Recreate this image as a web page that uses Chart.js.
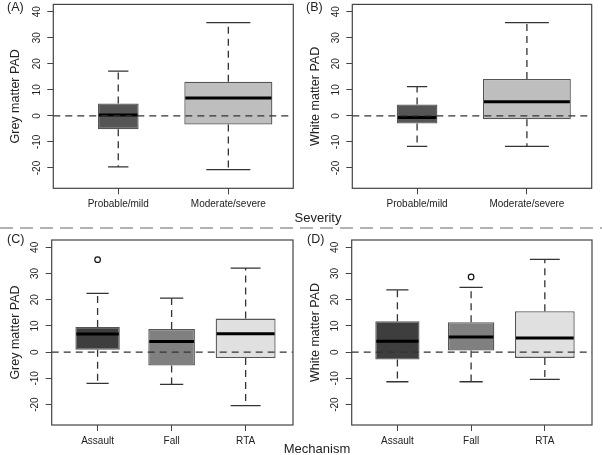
<!DOCTYPE html>
<html>
<head>
<meta charset="utf-8">
<script src="https://cdn.jsdelivr.net/npm/chart.js@4.4.1/dist/chart.umd.min.js"></script>
<style>
  body { margin: 0; background: #fff; }
  #wrap { position: relative; width: 602px; height: 455px; overflow: hidden; font-family: "Liberation Sans", Arial, sans-serif; color: #222; }
  canvas { position: absolute; }
  .lbl { position: absolute; white-space: nowrap; line-height: 1; }
  .tag { font-size: 12.5px; }
  .xtitle { font-size: 13px; transform: translate(-50%, -50%); }
  svg { position: absolute; left: 0; top: 0; }
</style>
</head>
<body>
<div id="wrap">
  <canvas id="chartA" width="300" height="228" style="left:0;top:0"></canvas>
  <canvas id="chartB" width="302" height="228" style="left:300px;top:0"></canvas>
  <canvas id="chartC" width="300" height="227" style="left:0;top:228px"></canvas>
  <canvas id="chartD" width="302" height="227" style="left:300px;top:228px"></canvas>
  <svg width="602" height="455"><line x1="0" y1="228" x2="602" y2="228" stroke="#999" stroke-width="1.5" stroke-dasharray="13,7"/></svg>
  <div class="lbl tag" style="left:7px;top:1px">(A)</div>
  <div class="lbl tag" style="left:306px;top:1px">(B)</div>
  <div class="lbl tag" style="left:7px;top:233px">(C)</div>
  <div class="lbl tag" style="left:307px;top:233px">(D)</div>
  <div class="lbl xtitle" style="left:318px;top:217px">Severity</div>
  <div class="lbl xtitle" style="left:317px;top:448px">Mechanism</div>
</div>
<script>
// severity groups
var severityLabels = ["Probable/mild", "Moderate/severe"]
var severityWidths = [0.37, 0.8]
var severityColors = ["#555555", "#bebebe"]

var greySevLow = [-19.6, -20.6]
var greySevQ1 = [-5.1, -3.3]
var greySevMed = [0.3, 6.9]
var greySevQ3 = [4.8, 13.1]
var greySevHigh = [17.2, 35.8]

var whiteSevLow = [-11.7, -11.7]
var whiteSevQ1 = [-2.9, -1.3]
var whiteSevMed = [-0.6, 5.4]
var whiteSevQ3 = [4.4, 14.2]
var whiteSevHigh = [11.2, 35.8]

// mechanism groups
var mechLabels = ["Assault", "Fall", "RTA"]
var mechWidths = [0.6, 0.63, 0.81]
var mechColors = ["#3e3e3e", "#808080", "#e0e0e0"]

var greyMechLow = [-11.9, -12.3, -20.4]
var greyMechQ1 = [0.9, -5.1, -2.25]
var greyMechMed = [6.9, 4.1, 7.0]
var greyMechQ3 = [9.6, 8.8, 12.8]
var greyMechHigh = [22.4, 20.6, 32.1]
var greyMechOutX = [1]
var greyMechOutY = [35.3]

var whiteMechLow = [-11.3, -11.3, -10.4]
var whiteMechQ1 = [-2.8, 0.6, -2.2]
var whiteMechMed = [4.2, 5.8, 5.4]
var whiteMechQ3 = [11.8, 11.4, 15.6]
var whiteMechHigh = [23.8, 24.7, 35.4]
var whiteMechOutX = [2]
var whiteMechOutY = [28.7]

var yTicks = [-20, -10, 0, 10, 20, 30, 40]
var yMin = -27.8
var yMax = 42.8

// whiskers, caps, medians and the zero line, drawn with the chart scales
var boxExtras = {
    id: "boxExtras",
    afterDatasetsDraw(chart) {
        var st = chart.options.plugins.boxExtras
        var ctx = chart.ctx
        var xs = chart.scales.x
        var ys = chart.scales.y
        var area = chart.chartArea
        ctx.save()
        for (var i = 0; i < st.med.length; i++) {
            var cx = xs.getPixelForValue(i + 1)
            var half = (xs.getPixelForValue(i + 1 + st.widths[i] / 2) - cx)
            ctx.strokeStyle = "#333"
            ctx.lineWidth = 1.3
            ctx.setLineDash([7, 5])
            ctx.beginPath()
            ctx.moveTo(cx, ys.getPixelForValue(st.q3[i]))
            ctx.lineTo(cx, ys.getPixelForValue(st.high[i]))
            ctx.moveTo(cx, ys.getPixelForValue(st.q1[i]))
            ctx.lineTo(cx, ys.getPixelForValue(st.low[i]))
            ctx.stroke()
            ctx.setLineDash([])
            ctx.beginPath()
            ctx.moveTo(cx - half / 2, ys.getPixelForValue(st.high[i]))
            ctx.lineTo(cx + half / 2, ys.getPixelForValue(st.high[i]))
            ctx.moveTo(cx - half / 2, ys.getPixelForValue(st.low[i]))
            ctx.lineTo(cx + half / 2, ys.getPixelForValue(st.low[i]))
            ctx.stroke()
            ctx.strokeStyle = "#000"
            ctx.lineWidth = 3
            ctx.beginPath()
            ctx.moveTo(cx - half + 1, ys.getPixelForValue(st.med[i]))
            ctx.lineTo(cx + half - 1, ys.getPixelForValue(st.med[i]))
            ctx.stroke()
        }
        // zero reference line
        ctx.strokeStyle = "#333"
        ctx.lineWidth = 1.3
        ctx.setLineDash([7, 5])
        ctx.beginPath()
        ctx.moveTo(area.left, ys.getPixelForValue(0))
        ctx.lineTo(area.right, ys.getPixelForValue(0))
        ctx.stroke()
        // frame
        ctx.setLineDash([])
        ctx.strokeStyle = "#444"
        ctx.lineWidth = 1.2
        ctx.strokeRect(area.left, area.top, area.right - area.left, area.bottom - area.top)
        ctx.restore()
    }
}

function makePanel(id, cfg) {
    var datasets = []
    for (var i = 0; i < cfg.labels.length; i++) {
        datasets.push({
            type: "bar",
            data: [{ x: i + 1, y: [cfg.q1[i], cfg.q3[i]] }],
            backgroundColor: cfg.colors[i],
            borderColor: "#555",
            borderWidth: 1.3,
            borderSkipped: false,
            grouped: false,
            categoryPercentage: 1,
            barPercentage: cfg.widths[i]
        })
    }
    var outliers = []
    for (var j = 0; j < cfg.outX.length; j++) {
        outliers.push({ x: cfg.outX[j], y: cfg.outY[j] })
    }
    datasets.push({
        type: "scatter",
        data: outliers,
        pointStyle: "circle",
        pointRadius: 2.8,
        pointBackgroundColor: "#fff",
        pointBorderColor: "#111",
        pointBorderWidth: 1.2
    })
    var canvas = document.getElementById(id)
    var W = canvas.width, H = canvas.height
    var tickFont = { family: "'Liberation Sans', Arial, sans-serif", size: 10 }
    new Chart(canvas, {
        type: "bar",
        data: { datasets: datasets },
        plugins: [boxExtras],
        options: {
            responsive: false,
            animation: false,
            layout: { padding: { left: 0, top: cfg.area[1], right: W - cfg.area[2], bottom: 0 } },
            plugins: {
                legend: { display: false },
                tooltip: { enabled: false },
                boxExtras: { low: cfg.low, q1: cfg.q1, med: cfg.med, q3: cfg.q3, high: cfg.high, widths: cfg.widths }
            },
            scales: {
                x: {
                    type: "linear",
                    offset: false,
                    min: cfg.xRange[0],
                    max: cfg.xRange[1],
                    afterBuildTicks(scale) {
                        scale.ticks = cfg.labels.map(function (l, k) { return { value: k + 1 } })
                    },
                    afterFit(scale) {
                        scale.height = H - cfg.area[3]
                        scale.paddingLeft = 0
                        scale.paddingRight = 0
                    },
                    ticks: {
                        font: tickFont,
                        color: "#222",
                        padding: 4,
                        maxRotation: 0,
                        autoSkip: false,
                        callback: function (v) { return cfg.labels[v - 1] }
                    },
                    grid: { display: true, drawOnChartArea: false, offset: false, tickLength: 6, color: "#444" },
                    border: { display: false }
                },
                y: {
                    min: yMin,
                    max: yMax,
                    afterBuildTicks(scale) {
                        scale.ticks = yTicks.map(function (v) { return { value: v } })
                    },
                    afterFit(scale) {
                        scale.width = cfg.area[0]
                        scale.paddingTop = 0
                        scale.paddingBottom = 0
                    },
                    ticks: {
                        font: tickFont,
                        color: "#222",
                        padding: 3,
                        minRotation: 90,
                        maxRotation: 90,
                        crossAlign: "center"
                    },
                    grid: { display: true, drawOnChartArea: false, tickLength: 6, color: "#444" },
                    border: { display: false },
                    title: {
                        display: true,
                        text: cfg.title,
                        font: { family: "'Liberation Sans', Arial, sans-serif", size: 12.5 },
                        color: "#222",
                        padding: { top: 8, bottom: 0 }
                    }
                }
            }
        }
    })
}

makePanel("chartA", {
    labels: severityLabels, widths: severityWidths, colors: severityColors,
    low: greySevLow, q1: greySevQ1, med: greySevMed, q3: greySevQ3, high: greySevHigh,
    outX: [], outY: [], title: "Grey matter PAD",
    area: [53.3, 4.4, 293.3, 188.3], xRange: [0.41, 2.59]
})
makePanel("chartB", {
    labels: severityLabels, widths: severityWidths, colors: severityColors,
    low: whiteSevLow, q1: whiteSevQ1, med: whiteSevMed, q3: whiteSevQ3, high: whiteSevHigh,
    outX: [], outY: [], title: "White matter PAD",
    area: [52.3, 4.4, 291.7, 188.3], xRange: [0.41, 2.59]
})
makePanel("chartC", {
    labels: mechLabels, widths: mechWidths, colors: mechColors,
    low: greyMechLow, q1: greyMechQ1, med: greyMechMed, q3: greyMechQ3, high: greyMechHigh,
    outX: greyMechOutX, outY: greyMechOutY, title: "Grey matter PAD",
    area: [51.7, 12, 293, 197], xRange: [0.38, 3.64]
})
makePanel("chartD", {
    labels: mechLabels, widths: mechWidths, colors: mechColors,
    low: whiteMechLow, q1: whiteMechQ1, med: whiteMechMed, q3: whiteMechQ3, high: whiteMechHigh,
    outX: whiteMechOutX, outY: whiteMechOutY, title: "White matter PAD",
    area: [51.7, 12, 292, 197], xRange: [0.38, 3.64]
})
</script>
</body>
</html>
